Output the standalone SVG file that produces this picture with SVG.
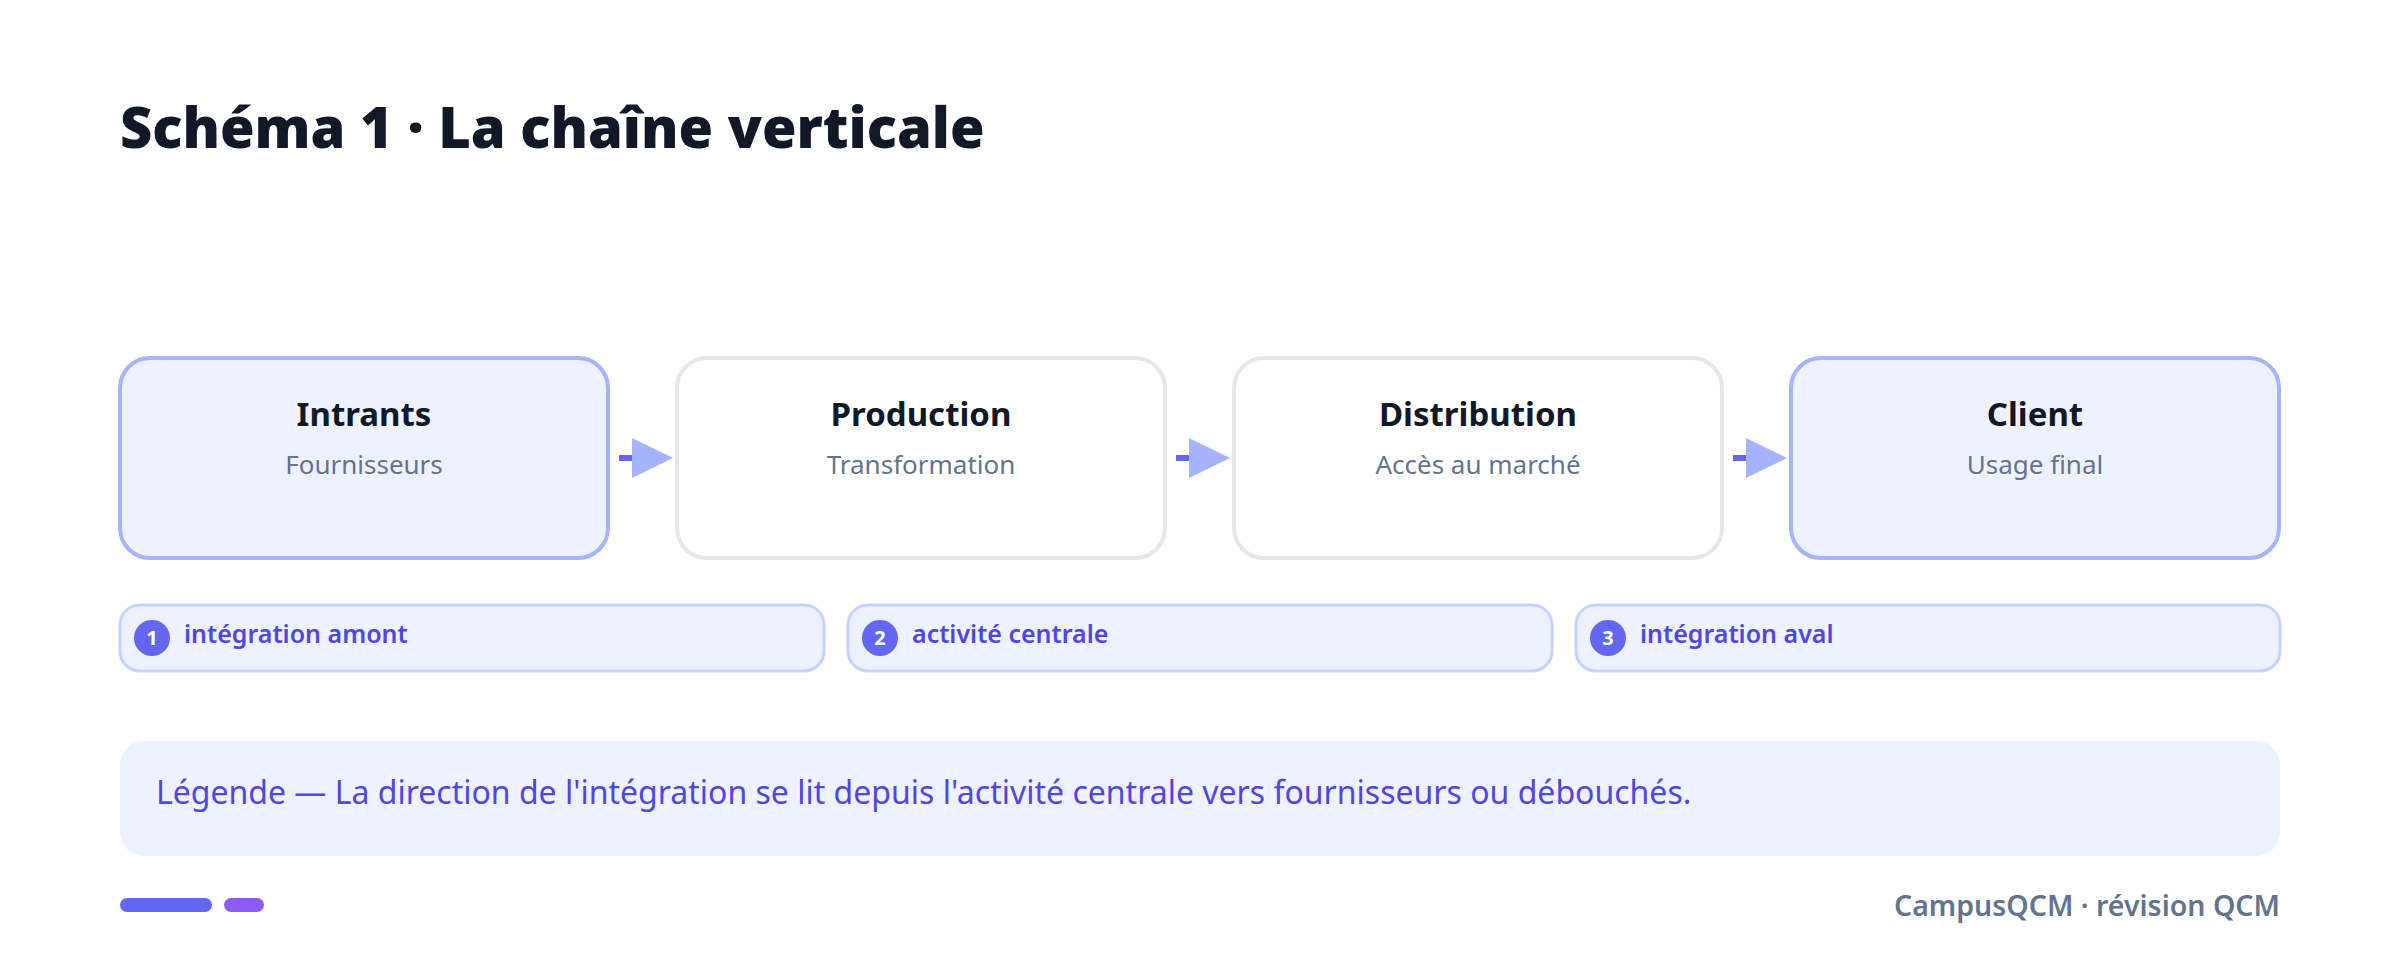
<svg xmlns="http://www.w3.org/2000/svg" width="2400" height="966" viewBox="0 0 2400 966">
<defs>
<style>
.title{font-family:"Noto Sans","Open Sans",sans-serif;font-weight:900;font-size:56px;fill:#111827}
.nbox-hi{fill:#eef2ff;stroke:#a5b4fc;stroke-width:4}
.nbox{fill:#ffffff;stroke:#e5e7eb;stroke-width:4}
.ntitle{font-family:"Noto Sans","Open Sans",sans-serif;font-weight:700;font-size:33px;fill:#111827;text-anchor:middle}
.nsub{font-family:"Noto Sans","Open Sans",sans-serif;font-weight:400;font-size:26px;fill:#64748b;text-anchor:middle}
.pill{fill:#eef2ff;stroke:#c7d2fe;stroke-width:3}
.pnum{fill:#6366f1}
.pnumt{font-family:"Noto Sans","Open Sans",sans-serif;font-weight:700;font-size:20px;fill:#ffffff;text-anchor:middle}
.ptext{font-family:"Noto Sans","Open Sans",sans-serif;font-weight:600;font-size:25px;fill:#4f46e5}
.legend{fill:#eef2ff}
.legendt{font-family:"Noto Sans","Open Sans",sans-serif;font-weight:400;font-size:32px;fill:#4f46e5}
.foot{font-family:"Noto Sans","Open Sans",sans-serif;font-weight:600;font-size:28.5px;fill:#64748b;text-anchor:end}
.cline{stroke:#6366f1;stroke-width:6}
.chead{fill:#a5b4fc}
</style>
</defs>
<rect width="2400" height="966" fill="#ffffff"/>
<text class="title" x="120" y="148">Schéma 1 · La chaîne verticale</text>

<g id="node-intrants">
<rect class="nbox-hi" x="120" y="358" width="488" height="200" rx="30"/>
<text class="ntitle" x="364" y="426">Intrants</text>
<text class="nsub" x="364" y="474">Fournisseurs</text>
</g>
<g id="node-production">
<rect class="nbox" x="677" y="358" width="488" height="200" rx="30"/>
<text class="ntitle" x="921" y="426">Production</text>
<text class="nsub" x="921" y="474">Transformation</text>
</g>
<g id="node-distribution">
<rect class="nbox" x="1234" y="358" width="488" height="200" rx="30"/>
<text class="ntitle" x="1478" y="426">Distribution</text>
<text class="nsub" x="1478" y="474">Accès au marché</text>
</g>
<g id="node-client">
<rect class="nbox-hi" x="1791" y="358" width="488" height="200" rx="30"/>
<text class="ntitle" x="2035" y="426">Client</text>
<text class="nsub" x="2035" y="474">Usage final</text>
</g>

<g id="connectors">
<line class="cline" x1="619" y1="458" x2="634" y2="458"/>
<polygon class="chead" points="632,438 673,458 632,478"/>
<line class="cline" x1="1176" y1="458" x2="1191" y2="458"/>
<polygon class="chead" points="1189,438 1230,458 1189,478"/>
<line class="cline" x1="1733" y1="458" x2="1748" y2="458"/>
<polygon class="chead" points="1746,438 1787,458 1746,478"/>
</g>

<g id="pill-1">
<rect class="pill" x="120" y="605" width="704" height="66" rx="20"/>
<circle class="pnum" cx="152" cy="638" r="18"/>
<text class="pnumt" x="152" y="645">1</text>
<text class="ptext" x="184" y="643">intégration amont</text>
</g>
<g id="pill-2">
<rect class="pill" x="848" y="605" width="704" height="66" rx="20"/>
<circle class="pnum" cx="880" cy="638" r="18"/>
<text class="pnumt" x="880" y="645">2</text>
<text class="ptext" x="912" y="643">activité centrale</text>
</g>
<g id="pill-3">
<rect class="pill" x="1576" y="605" width="704" height="66" rx="20"/>
<circle class="pnum" cx="1608" cy="638" r="18"/>
<text class="pnumt" x="1608" y="645">3</text>
<text class="ptext" x="1640" y="643">intégration aval</text>
</g>

<g id="legend">
<rect class="legend" x="120" y="741" width="2160" height="115" rx="24"/>
<text class="legendt" x="156" y="804">Légende — La direction de l'intégration se lit depuis l'activité centrale vers fournisseurs ou débouchés.</text>
</g>

<g id="footer">
<rect x="120" y="898" width="92" height="14" rx="7" fill="#6366f1"/>
<rect x="224" y="898" width="40" height="14" rx="7" fill="#8b5cf6"/>
<text class="foot" x="2280" y="916">CampusQCM · révision QCM</text>
</g>
</svg>
